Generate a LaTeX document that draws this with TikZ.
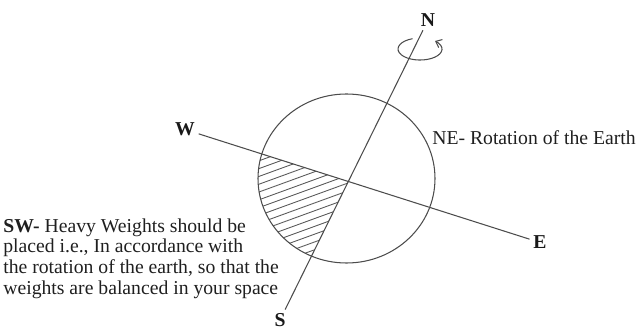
\documentclass[tikz,border=0pt]{standalone}
\usepackage{fontspec}
\setmainfont{Liberation Serif}
\usepackage{tikz}
\usetikzlibrary{arrows.meta, calc}

\begin{document}
\begin{tikzpicture}[
  x=0.02cm, y=0.02cm,
  axis/.style={draw=black!70, line width=0.6pt},
  pole/.style={font=\fontsize{11.2}{12}\selectfont\bfseries, text=black!90,
               inner sep=2pt},
  note/.style={font=\fontsize{11.2}{11.9}\selectfont, text=black!88,
               inner sep=0pt, align=left},
  hatch/.style={draw=black!65, line width=0.5pt},
  spin/.style={draw=black!70, line width=0.6pt,
               -{Straight Barb[length=3pt,width=5pt]}},
]
\useasboundingbox (0,0) rectangle (639,331);

% =========================================================================
% Geometry in pixels of the 639 x 331 frame: earth centred at (346.5,152.5)
% =========================================================================
\def\Cx{346.5} \def\Cy{152.5} \def\Rx{88.5} \def\Ry{84.5}

% ---- compass points -------------------------------------------------------
\node[pole] (N) at (428,311) {N};
\node[pole] (S) at (280,11) {S};
\node[pole] (W) at (185,201.5) {W};
\node[pole] (E) at (540,88.5) {E};

\coordinate (O) at (intersection of W--E and N--S);

% ---- hatched south-west quarter -------------------------------------------
\begin{scope}
  \clip (\Cx,\Cy) ellipse [x radius=\Rx, y radius=\Ry];
  \clip (W.center) -- (O) -- (S.center) -- (150,8) -- cycle;
  \foreach \k in {0,...,26}{
    \draw[hatch] (220,7.8*\k) -- ++(150,54.6);
  }
\end{scope}

% ---- earth and its axes ---------------------------------------------------
\draw[axis] (\Cx,\Cy) ellipse [x radius=\Rx, y radius=\Ry];
\draw[axis] (W) -- (E);
\draw[axis] (N) -- (S);

% the spin round the north pole
\draw[spin] (412.5,292.3) arc [start angle=110, end angle=407,
                               x radius=22, y radius=11];

% ---- captions -------------------------------------------------------------
\node[note, anchor=west] (ne) at (432,193) {NE- Rotation of the Earth};
\node[note, anchor=north west] (sw) at (3,113)
  {\textbf{SW-} Heavy Weights should be\\placed i.e., In accordance with\\
   the rotation of the earth, so that the\\weights are balanced in your space};

\end{tikzpicture}
\end{document}
